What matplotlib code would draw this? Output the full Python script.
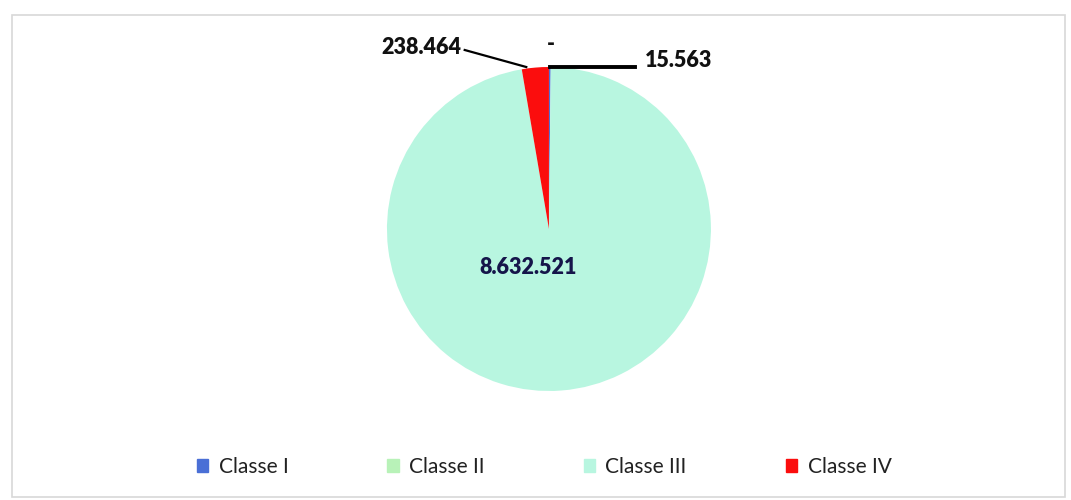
import matplotlib.pyplot as plt
import matplotlib.patches as mpatches
import numpy as np

categories = ["Classe I", "Classe II", "Classe III", "Classe IV"]
values = [15563, 0, 8632521, 238464]
value_labels = ["15.563", "-", "8.632.521", "238.464"]
colors = ["#4a6fd6", "#b8f2b8", "#b8f6e0", "#fb0d0d"]

plt.rcParams["font.family"] = ["Lato", "DejaVu Sans"]

fig = plt.figure(figsize=(10.71, 5), dpi=100)
fig.patches.append(mpatches.Rectangle((12 / 1071, 1 - 497 / 500), 1053 / 1071, 482 / 500,
                                      transform=fig.transFigure, fill=False,
                                      edgecolor="#d8d8d8", linewidth=1.2))

ax = fig.add_axes([0.3613, 0.218, 0.3025, 0.648])
wedges, _ = ax.pie(values, colors=colors, startangle=90, counterclock=False,
                   radius=1.0, wedgeprops=dict(linewidth=0))
ax.set_xlim(-1, 1)
ax.set_ylim(-1, 1)
ax.set_aspect("equal")
ax.axis("off")

# data labels
lab_font = dict(fontsize=15.5, fontweight="heavy", color="#111111")
ax.plot([0.006, 0.53], [1.0, 1.0], color="black", linewidth=2.8, clip_on=False)
ax.text(0.59, 1.04, value_labels[0], ha="left", va="center", **lab_font)
ax.text(0.01, 1.14, value_labels[1], ha="center", va="center", **lab_font)
ax.text(-0.13, -0.24, value_labels[2], ha="center", va="center", fontsize=15.5,
        fontweight="heavy", color="#15154a")
ax.plot([-0.52, -0.14], [1.105, 1.0], color="black", linewidth=1.6, clip_on=False)
ax.text(-0.54, 1.12, value_labels[3], ha="right", va="center", **lab_font)

handles = [mpatches.Patch(color=c) for c in colors]
fig.legend(handles, categories, loc="center", ncol=4,
           bbox_to_anchor=(544 / 1071, 1 - 467 / 500), frameon=False,
           fontsize=15, handlelength=0.55, handleheight=0.55, handletextpad=0.5,
           columnspacing=4.75, labelcolor="#222222")

plt.savefig("out.png", dpi=100)
